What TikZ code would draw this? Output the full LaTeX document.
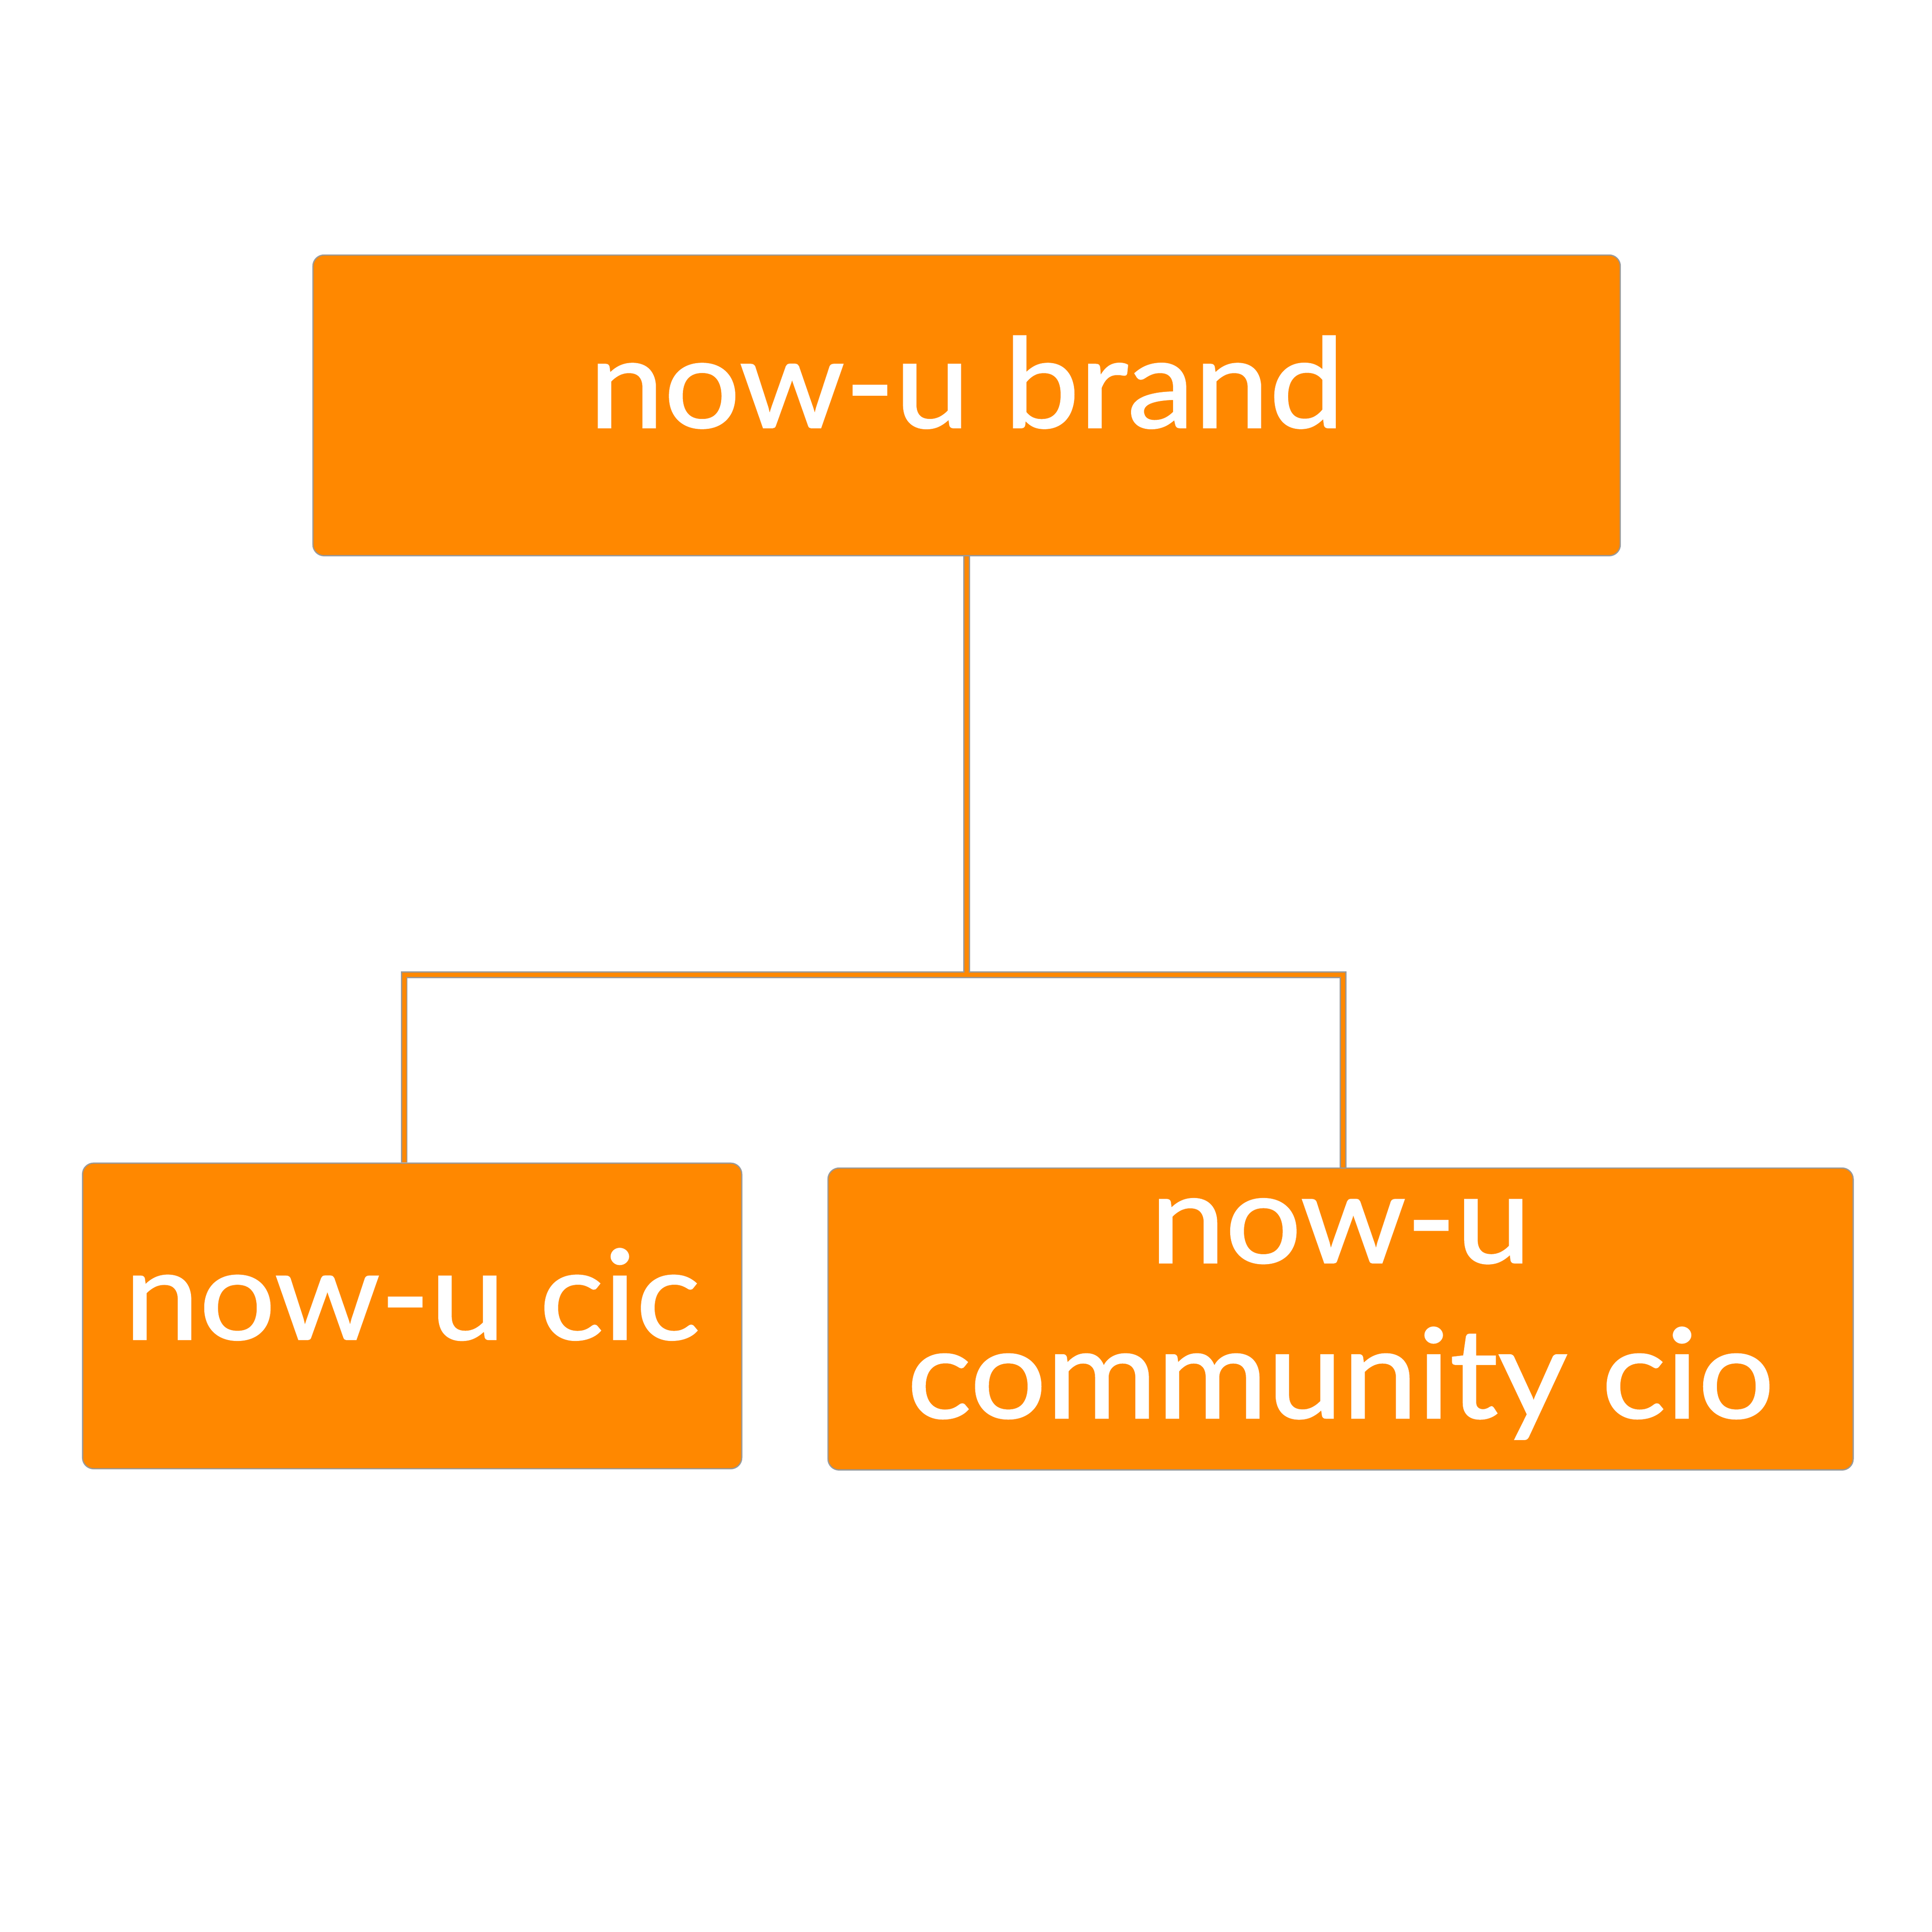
\documentclass[tikz,border=0pt]{standalone}
\usepackage{fontspec}
\setmainfont{Lato}[FakeStretch=1.08, FakeBold=1.2]
\usetikzlibrary{backgrounds}
\definecolor{nuorange}{HTML}{FF8800}
\definecolor{nugray}{HTML}{999999}
\begin{document}
\begin{tikzpicture}[x=1pt,y=-1pt,
  box/.style={draw=nugray, line width=1pt, fill=nuorange, rounded corners=9pt,
    text=white, inner sep=0pt, align=center,
    font=\fontsize{101}{126}\selectfont},
  linkbg/.style={draw=nugray, line width=5.5pt},
  linkfg/.style={draw=nuorange, line width=3.5pt}]
\useasboundingbox (0,0) rectangle (1568,1568);
\node[box, minimum width=1061pt, minimum height=244pt, text height=72pt, text depth=36pt] (brand) at (784.5,329) {now-u brand};
\node[box, minimum width=535pt, minimum height=248pt, text height=72pt, text depth=34pt] (cic) at (334.5,1068) {now-u cic};
\node[box, minimum width=832pt, minimum height=245pt] (cio) at (1088,1070.5) {now-u\\community cio};
\coordinate (barL) at (328,791);
\coordinate (barR) at (1090,791);
\begin{scope}[on background layer]
\draw[linkbg] (cic.north -| barL) -- (barL) -- (barR) -- (cio.north -| barR);
\draw[linkbg] (brand.south) -- (brand.south |- barL);
\draw[linkfg] (cic.north -| barL) -- (barL) -- (barR) -- (cio.north -| barR);
\draw[linkfg] (brand.south) -- (brand.south |- barL);
\end{scope}
\end{tikzpicture}
\end{document}
